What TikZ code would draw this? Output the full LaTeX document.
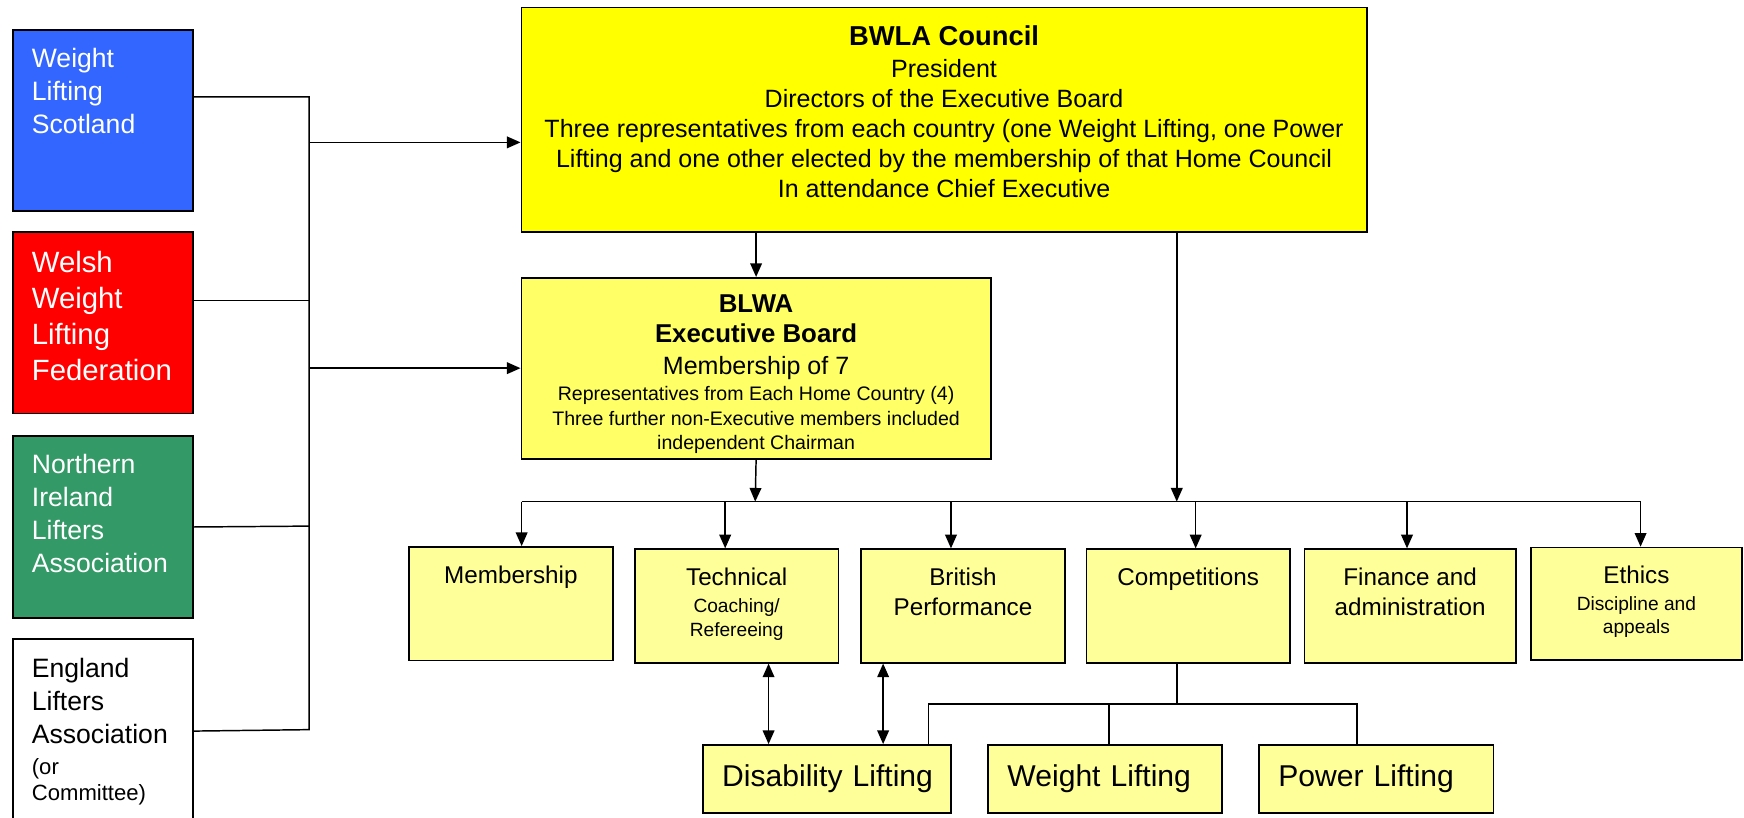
\documentclass[tikz,border=0pt]{standalone}
\usepackage{fontspec}
\setmainfont{Liberation Sans}
\usetikzlibrary{arrows.meta}
\definecolor{scotblue}{HTML}{3366FF}
\definecolor{welshred}{HTML}{FF0000}
\definecolor{nigreen}{HTML}{339966}
\definecolor{councilyel}{HTML}{FFFF00}
\definecolor{boardyel}{HTML}{FFFF66}
\definecolor{paleyel}{HTML}{FFFF99}
\newcommand\fsz[2]{\fontsize{#1}{#2}\selectfont}
\begin{document}
\begin{tikzpicture}[x=0.2mm, y=-0.2mm, line width=0.75pt,
  box/.style={draw, line width=0.9pt, inner sep=0pt, anchor=north west},
  sz/.style 2 args={minimum width=#1*0.2mm, minimum height=#2*0.2mm},
  side/.style={inner sep=0pt, anchor=north west, align=left, text=white, font=\fsz{13.6}{16.9}},
  ctxt/.style={inner sep=0pt, anchor=north, align=center, font=\fsz{12.4}{12.3}},
  bot/.style={box, fill=paleyel, inner xsep=3.5mm, minimum height=12.2mm, text width=#1, align=left, font=\fsz{15.4}{18}},
  arr/.style={-{Triangle[length=7pt,width=6pt]}},
  dbl/.style={{Triangle[length=7pt,width=6pt]}-{Triangle[length=7pt,width=6pt]}}]
  \useasboundingbox (0,0) rectangle (1568,735);

  \node[box, sz={162}{163}, fill=scotblue] (scot) at (11,26) {};
  \node[box, sz={162}{163}, fill=welshred] (wales) at (11,208) {};
  \node[box, sz={162}{164}, fill=nigreen] (nire) at (11,391) {};
  \node[box, sz={162}{165}, fill=white] (eng) at (11,574) {};
  \node[side] (scottext) at ([shift={(17,17)}]scot.north west) {Weight\\Lifting\\Scotland};
  \node[side, font=\fsz{15}{18.5}] (walestext) at ([shift={(17,17)}]wales.north west) {Welsh\\Weight\\Lifting\\Federation};
  \node[side] (niretext) at ([shift={(17,17)}]nire.north west) {Northern\\Ireland\\Lifters\\Association};
  \node[side, text=black] (engtext) at ([shift={(17,17)}]eng.north west) {England\\Lifters\\Association\\[-0.9pt]{\fsz{11.3}{16.9}(or}\\[-3.7pt]{\fsz{11.3}{16.9}Committee)}};

  \node[box, sz={760}{202}, fill=councilyel] (council) at (468,6) {};
  \node[ctxt, font=\fsz{12.8}{15.4}] (counciltext) at ([shift={(0,16.7)}]council.north) {{\fsz{14}{15.4}\bfseries BWLA Council}\\[0.8pt]President\\Directors of the Executive Board\\Three representatives from each country (one Weight Lifting, one Power\\Lifting and one other elected by the membership of that Home Council\\In attendance Chief Executive};
  \node[box, sz={422}{163}, fill=boardyel] (board) at (468,249) {};
  \node[ctxt, font=\fsz{10}{12.3}] (boardtext) at ([shift={(0,15.3)}]board.north) {{\fsz{13.2}{12.3}\bfseries BLWA}\\[3.3pt]{\fsz{13.2}{12.3}\bfseries Executive Board}\\[3.6pt]{\fsz{12.8}{12.3}Membership of 7}\\[1.4pt]Representatives from Each Home Country (4)\\[0.2pt]Three further non-Executive members included\\independent Chairman};

  \node[box, sz={183}{102}, fill=paleyel] (memb) at (367,491) {};
  \node[box, sz={183}{102}, fill=paleyel] (tech) at (570,493) {};
  \node[box, sz={184}{102}, fill=paleyel] (brit) at (773,493) {};
  \node[box, sz={183}{102}, fill=paleyel] (comp) at (976,493) {};
  \node[box, sz={190}{102}, fill=paleyel] (fin) at (1172,493) {};
  \node[box, sz={190}{101}, fill=paleyel] (eth) at (1375.5,491.5) {};
  \node[ctxt] (membtext) at ([shift={(0,17)}]memb.north) {Membership};
  \node[ctxt] (techtext) at ([shift={(0,16.5)}]tech.north) {Technical\\[1.7pt]{\fsz{9.8}{12.3}Coaching/}\\[0.2pt]{\fsz{9.8}{12.3}Refereeing}};
  \node[ctxt] (brittext) at ([shift={(0,16.5)}]brit.north) {British\\[3.2pt]Performance};
  \node[ctxt] (comptext) at ([shift={(0,17)}]comp.north) {Competitions};
  \node[ctxt] (fintext) at ([shift={(0,17)}]fin.north) {Finance and\\[3pt]administration};
  \node[ctxt] (ethtext) at ([shift={(0,16.5)}]eth.north) {Ethics\\[1.4pt]{\fsz{9.8}{12.3}Discipline and}\\[-0.1pt]{\fsz{9.8}{12.3}appeals}};

  \node[bot=37.6mm] (disab) at (631,669) {\mbox{Disability Lifting}};
  \node[bot=35.1mm] (wlift) at (887.5,669) {\mbox{Weight Lifting}};
  \node[bot=35.2mm] (power) at (1131,669) {\mbox{Power Lifting}};

  \coordinate (b1) at (278,87);
  \coordinate (b2) at (278,270);
  \coordinate (b3) at (278,473);
  \coordinate (b4) at (278,656);
  \draw (scot.east |- b1) -- (b1) -- (b4) -- (eng.east);
  \draw (wales.east |- b2) -- (b2);
  \draw (nire.east) -- (b3);
  \coordinate (a1) at (278,128);
  \coordinate (a2) at (278,331);
  \draw[arr] (a1) -- (a1 -| council.west);
  \draw[arr] (a2) -- (a2 -| board.west);

  \draw[arr] (council.south -| board.north) -- (board.north);
  \coordinate (hub) at (679,451);
  \draw[arr] (board.south) -- (hub);
  \coordinate (drop) at (1058,451);
  \draw[arr] (council.south -| drop) -- (drop);
  \foreach \n/\x in {memb/469, tech/652, brit/855, comp/1075, fin/1265, eth/1475}{
    \coordinate (tap\n) at (\x,451);
    \draw[arr] (tap\n) -- (tap\n |- \n.north);
  }
  \draw (tapmemb) -- (tapeth);

  \coordinate (split) at (1058,633);
  \coordinate (sl) at (835,633);
  \coordinate (sw) at (997,633);
  \coordinate (sr) at (1220,633);
  \draw (split |- comp.south) -- (split);
  \draw (sl |- disab.north) -- (sl) -- (sr) -- (sr |- power.north);
  \draw (sw) -- (sw |- wlift.north);

  \coordinate (d1) at (691,633);
  \coordinate (d2) at (794,633);
  \draw[dbl] (d1 |- tech.south) -- (d1 |- disab.north);
  \draw[dbl] (d2 |- brit.south) -- (d2 |- disab.north);
\end{tikzpicture}
\end{document}
